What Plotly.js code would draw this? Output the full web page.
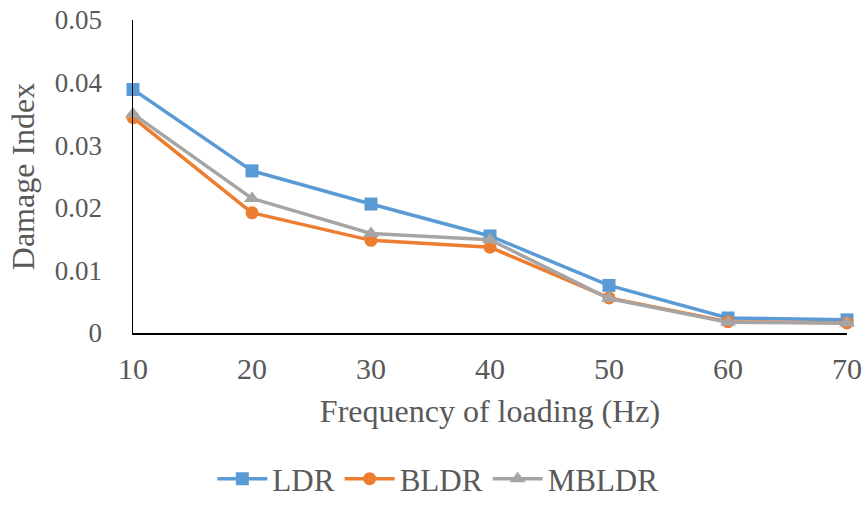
<!DOCTYPE html>
<html>
<head>
<meta charset="utf-8">
<script src="https://cdn.plot.ly/plotly-3.0.1.min.js"></script>
<style>html,body{margin:0;padding:0;background:#fff;}#chart{width:867px;height:506px;}</style>
</head>
<body>
<div id="chart"></div>
<script>
const frequency = [10, 20, 30, 40, 50, 60, 70];
const ldr = [0.0389, 0.0259, 0.0206, 0.0155, 0.0076, 0.0024, 0.0021];
const bldr = [0.0344, 0.0192, 0.0148, 0.0137, 0.0056, 0.0018, 0.0016];
const mbldr = [0.0350, 0.0215, 0.0159, 0.0149, 0.0055, 0.0017, 0.0016];
const seriesNames = ['LDR', 'BLDR', 'MBLDR'];
const yTicks = [0, 0.01, 0.02, 0.03, 0.04, 0.05];
const yTickText = ['0', '0.01', '0.02', '0.03', '0.04', '0.05'];

const colors = ['#5B9BD5', '#ED7D31', '#A5A5A5'];
const symbols = ['square', 'circle', 'triangle-up'];
const sizes = [13, 13, 14];
const data = [ldr, bldr, mbldr].map((vals, i) => ({
  x: frequency, y: vals, name: seriesNames[i], type: 'scatter', mode: 'lines+markers',
  line: {color: colors[i], width: 3.5},
  marker: {color: colors[i], symbol: symbols[i], size: sizes[i]},
  cliponaxis: false
}));

const fam = '"Liberation Serif", "Times New Roman", serif';
const col = '#595959';
const layout = {
  width: 867, height: 506,
  margin: {l: 133, r: 20, t: 20, b: 173, autoexpand: false},
  paper_bgcolor: '#fff', plot_bgcolor: '#fff',
  font: {family: fam, color: col, size: 30},
  showlegend: true,
  legend: {orientation: 'h', x: 0.505, xanchor: 'center', xref: 'container', yref: 'container', y: -0.02, yanchor: 'bottom',
           font: {family: fam, color: col, size: 31}, itemwidth: 50, tracegroupgap: 0},
  xaxis: {
    range: [10, 70], tickvals: frequency, ticktext: frequency.map(String),
    showgrid: false, zeroline: false, showline: true, linecolor: '#000', linewidth: 1.5,
    ticks: '', ticklen: 0, ticklabelstandoff: 8,
    tickfont: {family: fam, color: col, size: 30},
    title: {text: 'Frequency of loading (Hz)', font: {family: fam, color: col, size: 32}, standoff: 16}
  },
  yaxis: {
    range: [0, 0.05], tickvals: yTicks, ticktext: yTickText,
    showgrid: false, zeroline: false, showline: true, linecolor: '#000', linewidth: 1.5,
    ticks: '', ticklabelstandoff: 24,
    tickfont: {family: fam, color: col, size: 27},
    title: {text: 'Damage Index', font: {family: fam, color: col, size: 32}, standoff: 10}
  }
};
Plotly.newPlot('chart', data, layout, {displayModeBar: false, staticPlot: true});
</script>
</body>
</html>
